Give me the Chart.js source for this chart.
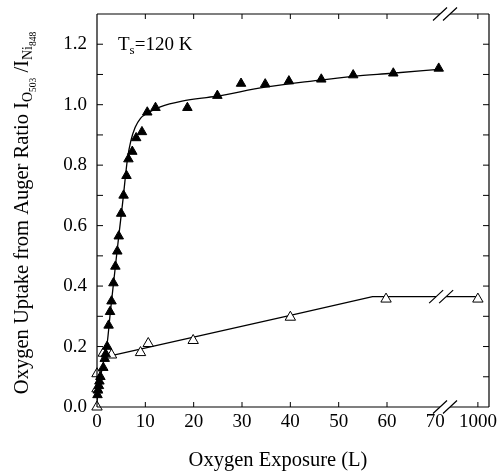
<!DOCTYPE html>
<html>
<head>
<meta charset="utf-8">
<script src="https://cdn.jsdelivr.net/npm/chart.js@4.4.0/dist/chart.umd.min.js"></script>
<style>
  html, body { margin: 0; padding: 0; background: #fff; }
  #wrap { width: 500px; height: 472px; }
</style>
</head>
<body>
<div id="wrap"><canvas id="uptake-chart"></canvas></div>
<script>
// exposure in L, oxygen uptake as Auger ratio I_O503 / I_Ni848
const filled_x = [0.1, 0.2, 0.4, 0.5, 0.7, 1.3, 1.6, 1.8, 2.1, 2.4, 2.7, 3.0, 3.4, 3.8, 4.2, 4.5, 5.0, 5.5, 6.1, 6.5, 7.3, 8.1, 9.3, 10.4, 12.1, 18.7, 24.9, 29.8, 34.8, 39.7, 46.4, 53.0, 61.3, 70.7];
const filled_y = [0.04, 0.055, 0.07, 0.085, 0.10, 0.13, 0.16, 0.175, 0.20, 0.27, 0.315, 0.35, 0.41, 0.465, 0.515, 0.565, 0.64, 0.70, 0.765, 0.82, 0.845, 0.89, 0.91, 0.975, 0.99, 0.99, 1.03, 1.07, 1.068, 1.078, 1.084, 1.098, 1.104, 1.12];
const filled_fit_x = [0, 0.5, 1.5, 2.1, 2.8, 3.7, 4.5, 5.3, 6.3, 7.0, 7.9, 9.0, 10.4, 13.1, 17.6, 24.7, 34.8, 44.8, 53, 61, 70.7];
const filled_fit_y = [0.02, 0.08, 0.16, 0.21, 0.32, 0.45, 0.565, 0.675, 0.82, 0.88, 0.925, 0.955, 0.972, 0.993, 1.012, 1.028, 1.058, 1.079, 1.094, 1.104, 1.117];
const open_x = [0, 0, 0, 1.3, 3.0, 9.0, 10.6, 19.9, 40, 59.8, 1000];
const open_y = [0.0, 0.06, 0.11, 0.178, 0.172, 0.18, 0.21, 0.22, 0.297, 0.357, 0.357];
const open_fit_x = [1.6, 40, 57, 1000];
const open_fit_y = [0.165, 0.303, 0.365, 0.365];
const x_ticks = [0, 10, 20, 30, 40, 50, 60, 70, 1000];
const y_ticks = [0.0, 0.2, 0.4, 0.6, 0.8, 1.0, 1.2];
const y_minor = [0.1, 0.2, 0.3, 0.4, 0.5, 0.6, 0.7, 0.8, 0.9, 1.0, 1.1, 1.2];
const x_tick_marks = [10, 20, 30, 40, 50, 60, 1000];

// broken axis: 1000 L is drawn just after the // mark
const BREAK_AT = 72.0;
const LINE_BREAK_AT = 71.2;
const FAR_POS = 78.8;
function xPos(v) { return v > 100 ? FAR_POS : v; }
function pts(xs, ys) { return xs.map((v, i) => ({ x: xPos(v), y: ys[i] })); }

Chart.defaults.font.family = "'Liberation Serif', 'Times New Roman', serif";
Chart.defaults.color = "#000";

function slashes(ctx, cx, cy) {
  ctx.beginPath();
  [-5, 5].forEach(off => {
    ctx.moveTo(cx + off - 7, cy + 6.5);
    ctx.lineTo(cx + off + 7, cy - 6.5);
  });
  ctx.stroke();
}

const frame_plugin = {
  id: "frame",
  afterDatasetsDraw(chart) {
    const { ctx, chartArea: a, scales: { x, y } } = chart;
    ctx.save();
    ctx.strokeStyle = "#000";
    ctx.lineWidth = 1.2;

    // break in the open-triangle line
    const lx = x.getPixelForValue(LINE_BREAK_AT);
    const ly = y.getPixelForValue(0.365);
    ctx.fillStyle = "#fff";
    ctx.fillRect(lx - 5, ly - 3, 10, 6);
    slashes(ctx, lx, ly);

    // frame with gaps at the break
    const bx = x.getPixelForValue(BREAK_AT);
    ctx.beginPath();
    ctx.moveTo(a.left, a.top); ctx.lineTo(a.left, a.bottom);
    ctx.moveTo(a.right, a.top); ctx.lineTo(a.right, a.bottom);
    [a.top, a.bottom].forEach(yy => {
      ctx.moveTo(a.left, yy); ctx.lineTo(bx - 5, yy);
      ctx.moveTo(bx + 5, yy); ctx.lineTo(a.right, yy);
    });
    ctx.stroke();
    slashes(ctx, bx, a.top);
    slashes(ctx, bx, a.bottom);

    // inward ticks
    ctx.lineWidth = 1;
    ctx.beginPath();
    x_tick_marks.forEach(v => {
      const px = x.getPixelForValue(xPos(v));
      ctx.moveTo(px, a.bottom); ctx.lineTo(px, a.bottom - 5);
      ctx.moveTo(px, a.top); ctx.lineTo(px, a.top + 5);
    });
    y_minor.forEach(v => {
      const py = y.getPixelForValue(v);
      ctx.moveTo(a.left, py); ctx.lineTo(a.left + 6, py);
      ctx.moveTo(a.right, py); ctx.lineTo(a.right - 6, py);
    });
    ctx.stroke();
    ctx.restore();
  },
  afterDraw(chart) {
    const { ctx } = chart;
    ctx.save();
    ctx.fillStyle = "#000";
    ctx.textBaseline = "alphabetic";
    const main = "20.5px 'Liberation Serif', serif";
    const note = "19px 'Liberation Serif', serif";
    const sub = "14px 'Liberation Serif', serif";
    const tiny = "9.5px 'Liberation Serif', serif";

    // x title
    ctx.font = main;
    ctx.textAlign = "center";
    ctx.fillText("Oxygen Exposure (L)", 278, 466);

    // y title with subscripts
    const parts = [
      ["Oxygen Uptake from Auger Ratio I", main, 0],
      ["O", sub, 4],
      ["503", tiny, 7.5],
      [" /I", main, 0],
      ["Ni", sub, 4],
      ["848", tiny, 7.5],
    ];
    let total = 0;
    parts.forEach(p => { ctx.font = p[1]; total += ctx.measureText(p[0]).width; });
    ctx.translate(28, 213);
    ctx.rotate(-Math.PI / 2);
    ctx.textAlign = "left";
    let cx = -total / 2;
    parts.forEach(p => {
      ctx.font = p[1];
      ctx.fillText(p[0], cx, p[2]);
      cx += ctx.measureText(p[0]).width;
    });
    ctx.setTransform(1, 0, 0, 1, 0, 0);

    // temperature note
    ctx.font = note;
    ctx.fillText("T", 118, 50);
    let tx = 118 + ctx.measureText("T").width;
    ctx.font = "13px 'Liberation Serif', serif";
    ctx.fillText("s", tx, 54);
    tx += ctx.measureText("s").width;
    ctx.font = note;
    ctx.fillText("=120 K", tx, 50);
    ctx.restore();
  }
};

const data_uptake = {
  datasets: [
    {
      label: "filled",
      data: pts(filled_x, filled_y),
      pointStyle: "triangle",
      pointRadius: 5.5,
      backgroundColor: "#000",
      borderColor: "#000",
      borderWidth: 1,
      showLine: false,
      clip: false,
    },
    {
      label: "open",
      data: pts(open_x, open_y),
      pointStyle: "triangle",
      pointRadius: 6,
      backgroundColor: "#fff",
      borderColor: "#000",
      borderWidth: 1,
      showLine: false,
      clip: false,
    },
    {
      label: "filled fit",
      data: pts(filled_fit_x, filled_fit_y),
      showLine: true,
      pointRadius: 0,
      borderColor: "#000",
      borderWidth: 1.3,
      cubicInterpolationMode: "monotone",
    },
    {
      label: "open fit",
      data: pts(open_fit_x, open_fit_y),
      showLine: true,
      pointRadius: 0,
      borderColor: "#000",
      borderWidth: 1.3,
      tension: 0,
    },
  ],
};

const config_uptake = {
  type: "scatter",
  data: data_uptake,
  plugins: [frame_plugin],
  options: {
    responsive: true,
    maintainAspectRatio: false,
    animation: false,
    layout: { padding: { top: 14, right: 11, left: 0, bottom: 0 } },
    plugins: { legend: { display: false }, tooltip: { enabled: false } },
    scales: {
      x: {
        type: "linear",
        min: 0,
        max: 81.1,
        grid: { display: false, drawTicks: false },
        border: { display: false },
        afterBuildTicks: s => { s.ticks = x_ticks.map(v => ({ value: xPos(v) })); },
        afterFit: s => { s.height = 65; s.paddingLeft = 0; s.paddingRight = 0; },
        ticks: {
          padding: 4,
          font: { size: 19 },
          maxRotation: 0,
          autoSkip: false,
          callback: v => (v === FAR_POS ? "1000" : String(v)),
        },
      },
      y: {
        type: "linear",
        min: 0,
        max: 1.3,
        grid: { display: false, drawTicks: false },
        border: { display: false },
        afterBuildTicks: s => { s.ticks = y_ticks.map(v => ({ value: v })); },
        afterFit: s => { s.width = 97; s.paddingTop = 0; s.paddingBottom = 0; },
        ticks: {
          padding: 10,
          font: { size: 19 },
          callback: v => v.toFixed(1),
        },
      },
    },
  },
};

var ctx_uptake = document.getElementById("uptake-chart").getContext("2d");
var chart_uptake = new Chart(ctx_uptake, config_uptake);
</script>
</body>
</html>
